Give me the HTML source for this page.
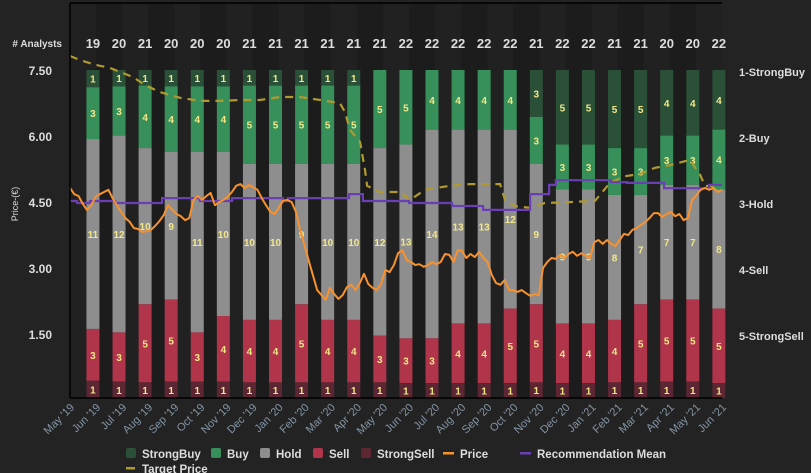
<!DOCTYPE html>
<html><head><meta charset="utf-8"><style>
html,body{margin:0;padding:0;background:#232323;}
svg{display:block;font-family:"Liberation Sans",sans-serif;}
</style></head><body>
<svg id="chart" width="811" height="473" viewBox="0 0 811 473"></svg>
<script>
const months=["May '19","Jun '19","Jul '19","Aug '19","Sep '19","Oct '19","Nov '19","Dec '19","Jan '20","Feb '20","Mar '20","Apr '20","May '20","Jun '20","Jul '20","Aug '20","Sep '20","Oct '20","Nov '20","Dec '20","Jan '21","Feb '21","Mar '21","Apr '21","May '21","Jun '21"];
const strongBuy=[1,1,1,1,1,1,1,1,1,1,1,0,0,0,0,0,0,3,5,5,5,5,4,4,4];
const buy=[3,3,4,4,4,4,5,5,5,5,5,5,5,4,4,4,4,3,3,3,3,3,3,3,4];
const hold=[11,12,10,9,11,10,10,10,9,10,10,12,13,14,13,13,12,9,9,9,8,7,7,7,8];
const sell=[3,3,5,5,3,4,4,4,5,4,4,3,3,3,4,4,5,5,4,4,4,5,5,5,5];
const strongSell=[1,1,1,1,1,1,1,1,1,1,1,1,1,1,1,1,1,1,1,1,1,1,1,1,1];
const priceTicks=[7.5,6.0,4.5,3.0,1.5];
const ratingLabels=["1-StrongBuy","2-Buy","3-Hold","4-Sell","5-StrongSell"];
const price=[4.84,4.70,4.66,4.48,4.34,4.45,4.64,4.70,4.75,4.80,4.61,4.45,4.30,4.16,4.07,3.93,3.91,3.84,3.86,3.89,3.98,4.09,4.23,4.45,4.34,4.25,4.20,4.11,4.16,4.57,4.66,4.57,4.66,4.73,4.45,4.52,4.57,4.64,4.75,4.89,4.93,4.84,4.91,4.86,4.80,4.61,4.45,4.30,4.25,4.39,4.55,4.57,4.52,4.30,3.89,3.55,3.20,2.86,2.52,2.41,2.30,2.57,2.43,2.32,2.41,2.59,2.64,2.52,2.68,2.89,2.66,2.57,2.52,2.66,2.98,2.93,3.09,3.36,3.43,3.20,3.16,3.09,3.11,3.05,3.09,3.16,3.11,3.16,3.34,3.32,3.16,3.43,3.41,3.25,3.34,3.27,3.39,3.25,3.16,2.86,2.68,2.64,2.75,2.52,2.52,2.48,2.52,2.45,2.39,2.43,2.41,3.02,3.16,3.25,3.23,3.32,3.25,3.34,3.39,3.30,3.36,3.30,3.25,3.61,3.66,3.57,3.66,3.57,3.52,3.66,3.80,3.77,3.89,3.93,4.00,4.07,4.16,4.27,4.27,4.18,4.25,4.30,4.20,4.25,4.11,4.16,4.57,4.68,4.80,4.84,4.80,4.84,4.75,4.80];
const targetMonths=[0,0.38,0.96,1.53,1.92,2.42,2.88,3.45,4.22,4.98,5.75,6.52,7.29,8.05,8.82,9.59,10.35,10.54,10.74,11.12,11.31,11.39,11.89,12.65,13.04,13.61,14.57,15.34,16.49,16.68,17.06,17.64,18.21,19.17,20.13,20.71,21.28,21.86,22.43,23.00,23.77,24.16,24.35,24.92];
const targetValues=[7.84,7.75,7.64,7.57,7.48,7.36,7.18,7.02,6.89,6.82,6.82,6.84,6.84,6.91,6.91,6.84,6.77,6.57,6.16,5.89,5.25,4.89,4.75,4.75,4.57,4.80,4.89,4.93,4.93,4.57,4.43,4.39,4.50,4.52,4.55,4.96,5.11,5.16,5.30,5.36,5.48,5.14,4.89,4.86];
const recMonths=[0,0.27,0.77,1.73,3.53,4.98,6.21,8.17,8.36,10.70,11.23,13.0,14.65,15.84,17.64,18.37,18.63,20.74,21.36,22.78,24.5];
const recValues=[2.955,2.985,2.955,2.985,2.91,2.955,2.91,2.955,2.91,2.85,2.955,2.985,3.03,3.09,2.85,2.71,2.64,2.67,2.68,2.76,2.71];

const NS="http://www.w3.org/2000/svg";
const svg=document.getElementById('chart');
const L=70,R=722,TOP=3,BOT=398,BARTOP=70;
const monthW=(R-L)/25;
const xM=t=>L+t*monthW;
const yP=v=>71+(7.5-v)*44;
const yR=r=>72+(r-1)*66;
function mk(tag,attrs,parent){const e=document.createElementNS(NS,tag);for(const k in attrs)e.setAttribute(k,attrs[k]);(parent||svg).appendChild(e);return e;}

const bg=mk('rect',{x:L,y:TOP,width:R-L,height:BOT-TOP,fill:'#1e1e1e'});


for(let i=0;i<25;i++){
  const s=mk('rect',{x:xM(i),y:TOP,width:monthW,height:BOT-TOP,fill:i%2?'#1c1c1c':'#212121'});
  
  
}
const ah=mk('text',{x:62,y:47,fill:'#ddd','font-size':10,'font-weight':'bold','text-anchor':'end'});ah.textContent='# Analysts';



const series=[strongBuy,buy,hold,sell,strongSell];
const colors=['#2a5038','#37905a','#8e8e8e','#b0344a','#5c2632'];
const segNames=['strongbuy','buy','hold','sell','strongsell'];
for(let i=0;i<strongBuy.length;i++){
  const total=series.reduce((a,s)=>a+s[i],0);
  const cx=xM(i+0.88);
  const n=mk('text',{x:cx,y:48,fill:'#ddd','font-size':13,'font-weight':'bold','text-anchor':'middle'});n.textContent=total;
  
  
  let y=BARTOP;const h=BOT-BARTOP;
  series.forEach((s,k)=>{
    const sh=s[i]/total*h;
    if(s[i]>0){
      const r=mk('rect',{x:cx-6.5,y:y,width:13,height:sh,fill:colors[k]});
      
      
      const t=mk('text',{x:cx,y:y+sh/2+4,fill:'#f2e88a','font-size':10,'font-weight':'bold','text-anchor':'middle'});t.textContent=s[i];
      
      
    }
    y+=sh;
  });
}
let d='';targetMonths.forEach((t,i)=>{d+=(i?'L':'M')+xM(t).toFixed(1)+','+yP(targetValues[i]).toFixed(1);});
const tp=mk('path',{d:d,fill:'none',stroke:'#b09a30','stroke-width':2.2,'stroke-dasharray':'8,6'});


d='';recMonths.forEach((t,i)=>{const y=yR(recValues[i]).toFixed(1);if(i===0)d+='M'+xM(t)+','+y;else d+='L'+xM(t).toFixed(1)+','+yR(recValues[i-1]).toFixed(1)+'L'+xM(t).toFixed(1)+','+y;});
d+='L'+R+','+yR(recValues[recValues.length-1]).toFixed(1);
const rm=mk('path',{d:d,fill:'none',stroke:'#6a3fb5','stroke-width':2.2});


d='';price.forEach((v,i)=>{d+=(i?'L':'M')+xM(i*25/(price.length-1)).toFixed(1)+','+yP(v).toFixed(1);});
const pl=mk('path',{d:d,fill:'none',stroke:'#f7922e','stroke-width':2,'stroke-linejoin':'round'});



mk('line',{x1:L,y1:TOP,x2:R,y2:TOP,stroke:'#000','stroke-width':1.5});
const ax=mk('line',{x1:L,y1:TOP,x2:L,y2:BOT,stroke:'#000','stroke-width':1.5});


const bx=mk('line',{x1:L,y1:BOT,x2:R,y2:BOT,stroke:'#000','stroke-width':1.5});



priceTicks.forEach(v=>{
  const t=mk('text',{x:52,y:yP(v)+4,fill:'#ddd','font-size':12,'font-weight':'bold','text-anchor':'end'});t.textContent=v.toFixed(2);
  
  
});
const yt=mk('text',{x:0,y:0,fill:'#ddd','font-size':9,'text-anchor':'middle',transform:'translate(18,204) rotate(-90)'});yt.textContent='Price-(€)';


ratingLabels.forEach((l,i)=>{
  const t=mk('text',{x:739,y:yR(i+1)+4,fill:'#ddd','font-size':11,'font-weight':'bold'});t.textContent=l;
  
  
});
months.forEach((m,i)=>{
  const x=xM(i)+5;
  const t=mk('text',{x:0,y:0,fill:'#8495a5','font-size':11,'text-anchor':'end',transform:`translate(${x.toFixed(1)},408) rotate(-45)`});t.textContent=m;
  
  
});

const leg=[['StrongBuy','sq','#2a5038',126],['Buy','sq','#37905a',211],['Hold','sq','#8e8e8e',260],['Sell','sq','#b0344a',313],['StrongSell','sq','#5c2632',361],['Price','ln','#f7922e',443],['Recommendation Mean','ln','#6a3fb5',520]];
leg.forEach(([label,kind,c,x])=>{
  const g=mk('g',{});
  
  
  if(kind==='sq')mk('rect',{x:x,y:448,width:10,height:10,rx:2,fill:c},g);
  else mk('rect',{x:x,y:452,width:11,height:2.5,fill:c},g);
  const t=mk('text',{x:x+(kind==='sq'?16:17),y:458,fill:'#ddd','font-size':11.5,'font-weight':'bold'},g);t.textContent=label;
});
const g2=mk('g',{});


mk('rect',{x:126,y:467,width:9,height:2.5,fill:'#b09a30'},g2);
const tt=mk('text',{x:142,y:473,fill:'#ddd','font-size':11.5,'font-weight':'bold'},g2);tt.textContent='Target Price';
</script>
</body></html>
